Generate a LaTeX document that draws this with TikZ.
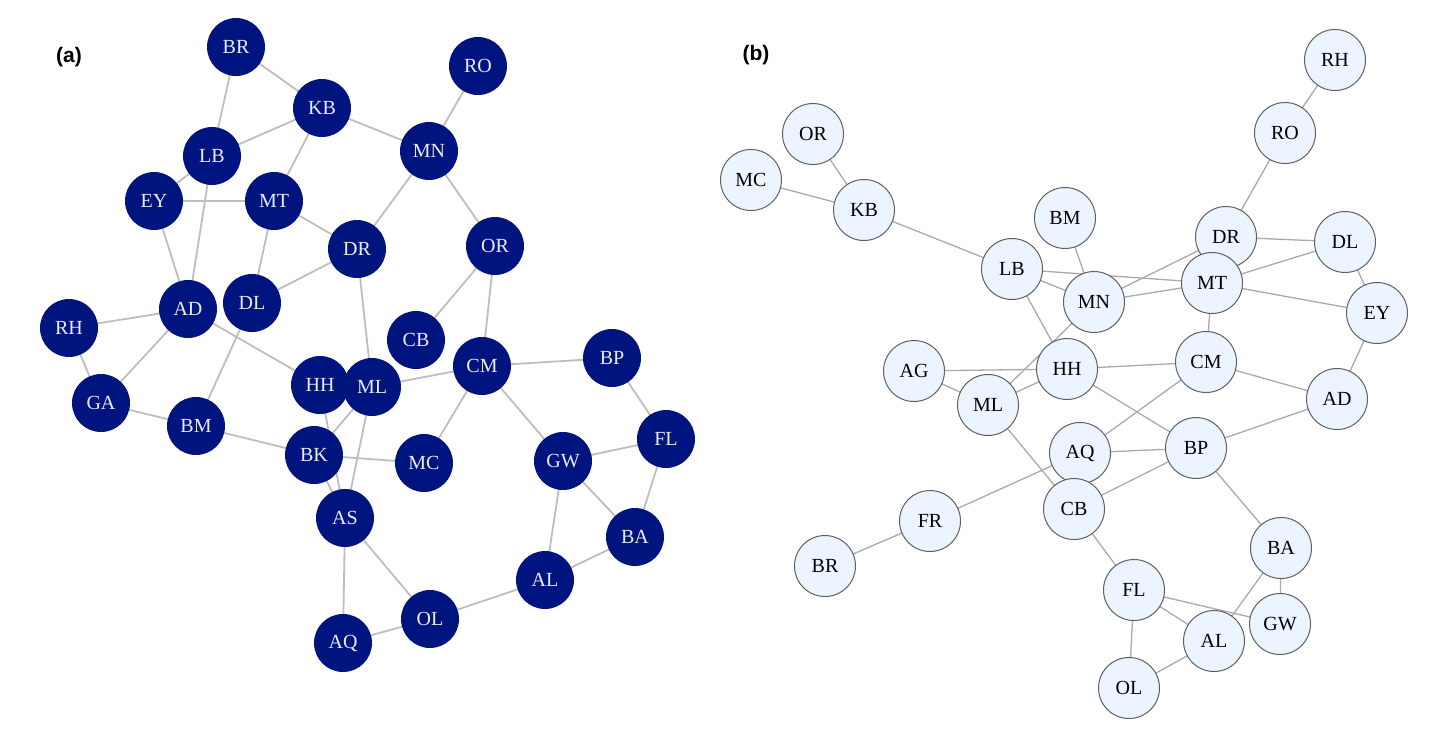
\documentclass[tikz,border=0pt]{standalone}
\usepackage{fontspec}
\setmainfont{Liberation Serif}
\newfontfamily\labfont{Liberation Sans}
\usetikzlibrary{backgrounds}
\definecolor{navy}{RGB}{0,20,128}
\definecolor{atext}{RGB}{235,235,242}
\definecolor{agray}{RGB}{190,190,190}
\definecolor{bfill}{RGB}{235,244,255}
\definecolor{bdraw}{RGB}{95,95,95}
\definecolor{bgray}{RGB}{170,170,170}
\tikzset{
  anode/.style={circle, fill=navy, draw=none, minimum size=58pt, inner sep=0pt,
    text=atext, font=\fontsize{20}{20}\selectfont},
  bnode/.style={circle, fill=bfill, draw=bdraw, line width=1pt, minimum size=61pt, inner sep=0pt,
    text=black, font=\fontsize{20}{20}\selectfont},
  aedge/.style={draw=agray, line width=1.8pt},
  bedge/.style={draw=bgray, line width=1.3pt},
  plabel/.style={font=\labfont\bfseries\fontsize{21}{21}\selectfont, text=black}
}
\begin{document}
\begin{tikzpicture}[x=1pt,y=-1pt]
\useasboundingbox (0,0) rectangle (1434,740);
% panel labels
\node[plabel] (la) at (69,57) {(a)};
\node[plabel] (lb) at (756,55) {(b)};
% ---------------- panel (a) nodes ----------------
\node[anode] (aBR) at (236,47) {BR};
\node[anode] (aRO) at (478,66) {RO};
\node[anode] (aKB) at (322,108) {KB};
\node[anode] (aLB) at (212,156) {LB};
\node[anode] (aMN) at (429,151) {MN};
\node[anode] (aEY) at (154,201) {EY};
\node[anode] (aMT) at (274,201) {MT};
\node[anode] (aDR) at (357,249) {DR};
\node[anode] (aOR) at (495,246) {OR};
\node[anode] (aAD) at (188,309) {AD};
\node[anode] (aDL) at (252,303) {DL};
\node[anode] (aRH) at (69,328) {RH};
\node[anode] (aCB) at (416,340) {CB};
\node[anode] (aCM) at (482,366) {CM};
\node[anode] (aBP) at (612,358) {BP};
\node[anode] (aHH) at (320,385) {HH};
\node[anode] (aML) at (372,387) {ML};
\node[anode] (aGA) at (101,403) {GA};
\node[anode] (aBM) at (196,426) {BM};
\node[anode] (aBK) at (314,455) {BK};
\node[anode] (aMC) at (424,463) {MC};
\node[anode] (aGW) at (563,461) {GW};
\node[anode] (aFL) at (666,439) {FL};
\node[anode] (aAS) at (345,518) {AS};
\node[anode] (aBA) at (635,537) {BA};
\node[anode] (aAL) at (545,580) {AL};
\node[anode] (aOL) at (430,619) {OL};
\node[anode] (aAQ) at (343,643) {AQ};
% ---------------- panel (b) nodes ----------------
\node[bnode] (bRH) at (1335,60) {RH};
\node[bnode] (bOR) at (813,134) {OR};
\node[bnode] (bRO) at (1285,133) {RO};
\node[bnode] (bMC) at (751,180) {MC};
\node[bnode] (bKB) at (864,210) {KB};
\node[bnode] (bBM) at (1065,218) {BM};
\node[bnode] (bDL) at (1345,242) {DL};
\node[bnode] (bLB) at (1012,269) {LB};
\node[bnode] (bDR) at (1226,237) {DR};
\node[bnode] (bMT) at (1212,283) {MT};
\node[bnode] (bMN) at (1094,302) {MN};
\node[bnode] (bEY) at (1377,313) {EY};
\node[bnode] (bAG) at (914,371) {AG};
\node[bnode] (bHH) at (1067,369) {HH};
\node[bnode] (bCM) at (1206,362) {CM};
\node[bnode] (bML) at (988,405) {ML};
\node[bnode] (bAD) at (1337,399) {AD};
\node[bnode] (bBP) at (1196,448) {BP};
\node[bnode] (bAQ) at (1080,453) {AQ};
\node[bnode] (bCB) at (1074,509) {CB};
\node[bnode] (bFR) at (930,521) {FR};
\node[bnode] (bBR) at (825,566) {BR};
\node[bnode] (bBA) at (1281,548) {BA};
\node[bnode] (bFL) at (1134,590) {FL};
\node[bnode] (bGW) at (1280,624) {GW};
\node[bnode] (bAL) at (1214,641) {AL};
\node[bnode] (bOL) at (1129,688) {OL};
% ---------------- edges ----------------
\begin{scope}[on background layer]
\fill[white] (0,0) rectangle (1434,740);
\foreach \u/\v in {BR/KB, BR/LB, KB/LB, KB/MN, KB/MT, RO/MN, MN/DR, MN/OR,
  LB/EY, LB/AD, EY/MT, EY/AD, MT/DR, MT/DL, DR/DL, DR/ML, OR/CB, OR/CM,
  RH/AD, RH/GA, AD/GA, AD/HH, DL/BM, GA/BM, BM/BK, HH/AS, ML/BK, ML/AS,
  BK/AS, BK/MC, ML/CM, CM/BP, CM/MC, CM/GW, BP/FL, GW/FL, GW/BA, GW/AL,
  FL/BA, BA/AL, AL/OL, AS/OL, AS/AQ, AQ/OL}
  \draw[aedge] (a\u.center) -- (a\v.center);
\foreach \u/\v in {RH/RO, RO/DR, OR/KB, MC/KB, KB/LB, BM/MN, LB/MN, LB/MT,
  LB/HH, MN/DR, MN/MT, MN/ML, DR/DL, MT/DL, MT/EY, DL/EY, MT/CM, EY/AD,
  AG/HH, AG/ML, ML/HH, HH/CM, HH/BP, CM/AD, CM/AQ, AQ/BP, BP/AD, BP/CB,
  ML/CB, FR/AQ, BR/FR, CB/FL, BP/BA, BA/GW, BA/AL, FL/AL, FL/GW, FL/OL, OL/AL}
  \draw[bedge] (b\u.center) -- (b\v.center);
\end{scope}
\end{tikzpicture}
\end{document}
